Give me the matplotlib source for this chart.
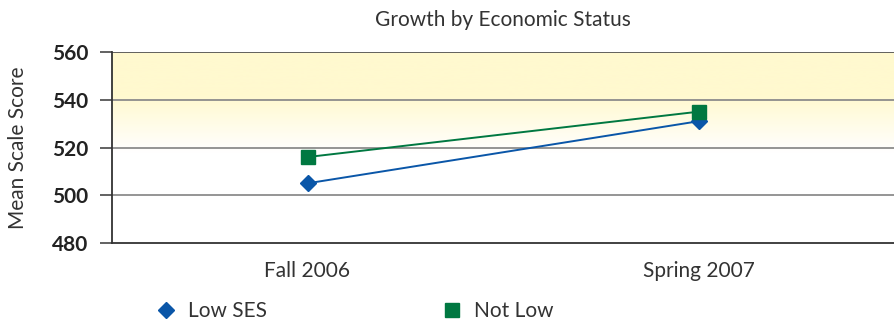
import numpy as np
import matplotlib.pyplot as plt
from matplotlib.lines import Line2D
from matplotlib.colors import LinearSegmentedColormap

plt.rcParams['font.family'] = ['Lato', 'DejaVu Sans']

#-----data-----#
periods = ['Fall 2006', 'Spring 2007']
low_ses = [505, 531]
not_low = [516, 535]
yticks = [480, 500, 520, 540, 560]

BLUE = '#0a56a8'
GREEN = '#007841'

#-----figure and axes-----#
fig = plt.figure(figsize=(8.94, 3.23), dpi=100)
ax = fig.add_axes([112 / 894, 1 - 243 / 323, 1 - 112 / 894, 191 / 323])

x = np.arange(len(periods))
ax.set_xlim(-0.5, len(periods) - 0.5)
ax.set_ylim(480, 560)

# yellow band at the top, fading to white below 540
ys = np.linspace(480, 560, 400)
alpha = np.clip((ys - 518) / 24, 0, 1)
grad = alpha[:, None]
cmap = LinearSegmentedColormap.from_list('band', ['#ffffff', '#fff9cf'])
ax.imshow(grad, extent=[-0.5, len(periods) - 0.5, 480, 560], origin='lower',
          aspect='auto', cmap=cmap, vmin=0, vmax=1, zorder=0)

# horizontal grid lines
for v in yticks[1:-1]:
    ax.axhline(v, color='#8c8c8c', lw=1.3, zorder=1)
ax.axhline(560, color='#555555', lw=1.3, zorder=1)

# series
ax.plot(x, low_ses, '-', color=BLUE, lw=1.4, marker='D', ms=8, zorder=3)
ax.plot(x, not_low, '-', color=GREEN, lw=1.4, marker='s', ms=10.5, zorder=4)

# axes formatting
for side in ['top', 'right']:
    ax.spines[side].set_visible(False)
ax.spines['left'].set_color('#333333')
ax.spines['bottom'].set_color('#333333')
ax.spines['left'].set_linewidth(1.3)
ax.spines['bottom'].set_linewidth(1.3)

ax.set_yticks(yticks)
ax.set_yticklabels([str(v) for v in yticks], fontsize=15, fontweight='bold',
                   color='#222222')
ax.tick_params(axis='y', length=9, width=1.3, color='#555555', pad=8)
ax.set_xticks(x)
ax.set_xticklabels(periods, fontsize=15, color='#333333')
ax.tick_params(axis='x', length=0, pad=13)

ax.set_ylabel('Mean Scale Score', fontsize=15, color='#333333')
ax.yaxis.set_label_coords(-84 / 782, 0.5)
fig.text(503 / 894, 1 - 20 / 323, 'Growth by Economic Status', ha='center',
         va='center', fontsize=15, color='#333333')

# legend, one entry each
h1 = Line2D([], [], color=BLUE, marker='D', ms=8, ls='')
h2 = Line2D([], [], color=GREEN, marker='s', ms=10.5, ls='')
fig.legend([h1], ['Low SES'], loc='center left', frameon=False, fontsize=15,
           bbox_to_anchor=(126 / 894, 1 - 311 / 323), handletextpad=0.1,
           labelcolor='#333333')
fig.legend([h2], ['Not Low'], loc='center left', frameon=False, fontsize=15,
           bbox_to_anchor=(412 / 894, 1 - 311 / 323), handletextpad=0.1,
           labelcolor='#333333')

fig.savefig('out.png', dpi=100)
